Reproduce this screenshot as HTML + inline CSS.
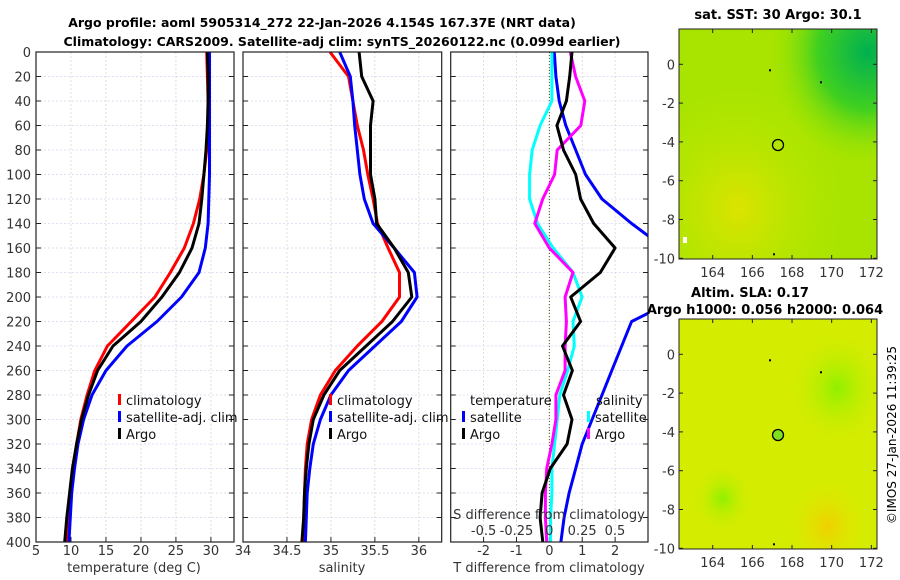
<!DOCTYPE html>
<html><head><meta charset="utf-8"><style>
body{margin:0;background:#fff;}
svg{display:block;font-family:"DejaVu Sans","Liberation Sans",sans-serif;}
</style></head><body>
<svg id="chart" width="900" height="580" viewBox="0 0 900 580">
<defs>
<radialGradient id="g1" cx="95%" cy="10%" r="50%"><stop offset="0" stop-color="#00b050"/><stop offset="0.5" stop-color="#40d020"/><stop offset="1" stop-color="#9ee400" stop-opacity="0"/></radialGradient>
<radialGradient id="g2" cx="30%" cy="78%" r="55%"><stop offset="0" stop-color="#dce400"/><stop offset="1" stop-color="#b8e800" stop-opacity="0"/></radialGradient>
<radialGradient id="g3" cx="80%" cy="30%" r="25%"><stop offset="0" stop-color="#90f000"/><stop offset="1" stop-color="#d0ec00" stop-opacity="0"/></radialGradient>
<radialGradient id="g4" cx="22%" cy="78%" r="15%"><stop offset="0" stop-color="#90f000"/><stop offset="1" stop-color="#d0ec00" stop-opacity="0"/></radialGradient>
<radialGradient id="g5" cx="75%" cy="90%" r="20%"><stop offset="0" stop-color="#f0d000"/><stop offset="1" stop-color="#e0e800" stop-opacity="0"/></radialGradient>
</defs>
<g font-weight="bold" font-size="12.5" text-anchor="middle">
<text x="322" y="27">Argo profile: aoml 5905314_272 22-Jan-2026 4.154S 167.37E (NRT data)</text>
<text x="342" y="46">Climatology: CARS2009. Satellite-adj clim: synTS_20260122.nc (0.099d earlier)</text>
</g>
<g id="plots"></g>
<g>
<rect x="679" y="29" width="198" height="230" fill="#a8e400"/>
<rect x="679" y="29" width="198" height="230" fill="url(#g2)"/>
<rect x="679" y="29" width="198" height="230" fill="url(#g1)"/>
<rect x="679" y="29" width="198" height="230" fill="none" stroke="#222" stroke-width="1"/>
<circle cx="778" cy="145" r="5.5" fill="none" stroke="#000" stroke-width="1.3"/>
<rect x="683" y="237" width="4" height="6" fill="#fff"/>
<text x="778" y="19" text-anchor="middle" font-weight="bold" font-size="13">sat. SST: 30 Argo: 30.1</text>
</g>
<g>
<rect x="679" y="319" width="198" height="230" fill="#d4ec00"/>
<rect x="679" y="319" width="198" height="230" fill="url(#g3)"/>
<rect x="679" y="319" width="198" height="230" fill="url(#g4)"/>
<rect x="679" y="319" width="198" height="230" fill="url(#g5)"/>
<rect x="679" y="319" width="198" height="230" fill="none" stroke="#222" stroke-width="1"/>
<circle cx="778" cy="435" r="5.5" fill="#80e020" stroke="#000" stroke-width="1.3"/>
<text x="750" y="297" text-anchor="middle" font-weight="bold" font-size="13">Altim. SLA: 0.17</text>
<text x="765" y="314" text-anchor="middle" font-weight="bold" font-size="13">Argo h1000: 0.056 h2000: 0.064</text>
</g>
<text transform="translate(896,435) rotate(-90)" text-anchor="middle" font-size="12">©IMOS 27-Jan-2026 11:39:25</text>
</svg>
<script>
const depths=[0,20,40,60,80,100,120,140,160,180,200,220,240,260,280,300,320,340,360,380,400];
const tempClim=[29.4,29.5,29.6,29.6,29.4,29.0,28.4,27.5,26.2,24.2,22.0,18.6,15.2,13.4,12.3,11.4,10.8,10.3,9.9,9.6,9.4];
const tempSat=[29.8,29.8,29.8,29.8,29.8,29.8,29.7,29.6,29.2,28.3,25.8,22.3,18.0,15.0,13.0,11.8,11.0,10.5,10.1,9.9,9.7];
const tempArgo=[29.5,29.6,29.6,29.5,29.3,29.0,28.7,28.3,27.3,25.5,23.0,20.0,16.0,13.8,12.5,11.5,10.8,10.2,9.8,9.4,9.1];
const salClim=[34.99,35.2,35.25,35.3,35.37,35.42,35.48,35.53,35.65,35.78,35.78,35.58,35.3,35.05,34.88,34.78,34.73,34.71,34.7,34.69,34.68];
const salSat=[35.1,35.22,35.25,35.27,35.3,35.33,35.38,35.48,35.72,35.95,35.98,35.8,35.5,35.2,35.0,34.88,34.8,34.76,34.73,34.72,34.71];
const salArgo=[35.32,35.35,35.48,35.45,35.45,35.45,35.5,35.52,35.72,35.88,35.92,35.7,35.4,35.1,34.92,34.8,34.75,34.72,34.7,34.69,34.67];
const tDiffSat=[0.15,0.2,0.3,0.5,0.8,1.1,1.6,2.5,3.5,4.5,4.0,2.5,2.2,1.9,1.6,1.3,1.0,0.8,0.6,0.45,0.35];
const tDiffArgo=[0.69,0.62,0.52,0.23,0.43,0.8,0.95,1.35,2.0,1.55,0.65,0.95,0.4,0.7,0.43,0.69,0.54,0.03,-0.22,-0.28,-0.2];
const sDiffSat=[0.02,0.02,0.02,-0.07,-0.13,-0.15,-0.15,-0.09,0.03,0.18,0.25,0.18,0.19,0.14,0.08,0.06,0.04,0.02,0.02,0.01,0.01];
const sDiffArgo=[0.16,0.2,0.27,0.24,0.06,0.04,-0.05,-0.11,0.0,0.18,0.12,0.13,0.12,0.12,0.05,0.05,0.02,-0.02,-0.03,-0.03,-0.02];
const depthTicks=[0,20,40,60,80,100,120,140,160,180,200,220,240,260,280,300,320,340,360,380,400];
const tempTicks=[5,10,15,20,25,30];
const salTicks=[34,34.5,35,35.5,36];
const tDiffTicks=[-2,-1,0,1,2];
const sDiffTickLabels=["-0.5","-0.25","0","0.25","0.5"];
const sDiffTicks=[-0.5,-0.25,0,0.25,0.5];
const latTicks=[0,-2,-4,-6,-8,-10];
const lonTicks=[164,166,168,170,172];

const NS='http://www.w3.org/2000/svg';
const root=document.getElementById('plots');
const svg=document.getElementById('chart');
function mk(tag,attrs,parent){const e=document.createElementNS(NS,tag);for(const k in attrs)e.setAttribute(k,attrs[k]);(parent||root).appendChild(e);return e;}
const TOP=52,BOT=542;
const yD=d=>TOP+(d/400)*(BOT-TOP);
const panels=[
 {x0:36,x1:234,lo:5,hi:33.3},
 {x0:243,x1:441.7,lo:34,hi:36.26},
 {x0:450.7,x1:648,lo:-3,hi:3}];
const sx=(p,v)=>p.x0+(v-p.lo)/(p.hi-p.lo)*(p.x1-p.x0);
const sS=v=>549.3+v*131.4;

panels.forEach((p,i)=>{
 const g=mk('g',{});
 
 
 mk('rect',{x:p.x0,y:TOP,width:p.x1-p.x0,height:BOT-TOP,fill:'#fff'},g);
 depthTicks.forEach(d=>{const y=yD(d);
  mk('line',{x1:p.x0,x2:p.x1,y1:y,y2:y,stroke:'#d0d6ef','stroke-dasharray':'2,2','stroke-width':0.8},g);
  mk('line',{x1:p.x0,x2:p.x0+5,y1:y,y2:y,stroke:'#222'},g);
  mk('line',{x1:p.x1-5,x2:p.x1,y1:y,y2:y,stroke:'#222'},g);});
 const xt=i==0?tempTicks:i==1?salTicks:tDiffTicks;
 xt.forEach(v=>{const x=sx(p,v);
  mk('line',{x1:x,x2:x,y1:TOP,y2:BOT,stroke:'#e6d0c8','stroke-dasharray':'2,2','stroke-width':0.8},g);
  mk('line',{x1:x,x2:x,y1:BOT-5,y2:BOT,stroke:'#222'},g);
  const t=mk('text',{x:x,y:555,'text-anchor':'middle','font-size':13,fill:'#333'},g);t.textContent=String(v);
  
  });
 if(i==2){mk('line',{x1:sx(p,0),x2:sx(p,0),y1:TOP,y2:BOT,stroke:'#3a5a20','stroke-dasharray':'1,2'},g);}
});
depthTicks.forEach(d=>{const t=mk('text',{x:31,y:yD(d)+5,'text-anchor':'end','font-size':13,fill:'#333'});t.textContent=d;
 
 });
[['temperature (deg C)',134],['salinity',342],['T difference from climatology',549]].forEach(([s,x])=>{const t=mk('text',{x:x,y:572,'text-anchor':'middle','font-size':13,fill:'#333'});t.textContent=s;
 
 });

function line(vals,fx,color,name,w){
 const pts=vals.map((v,k)=>fx(v).toFixed(1)+','+yD(depths[k]).toFixed(1)).join(' ');
 const e=mk('polyline',{points:pts,fill:'none',stroke:color,'stroke-width':w||3,'stroke-linejoin':'round'});
 
 
 return e;}
const cp=mk('clipPath',{id:'c3'});mk('rect',{x:450.7,y:TOP,width:197.3,height:BOT-TOP},cp);
const p1=panels[0],p2=panels[1],p3=panels[2];
line(tempClim,v=>sx(p1,v),'#f00','temp-climatology-line');
line(tempSat,v=>sx(p1,v),'#00f','temp-satellite-line');
line(tempArgo,v=>sx(p1,v),'#000','temp-argo-line');
line(salClim,v=>sx(p2,v),'#f00','sal-climatology-line');
line(salSat,v=>sx(p2,v),'#00f','sal-satellite-line');
line(salArgo,v=>sx(p2,v),'#000','sal-argo-line');
line(tDiffSat,v=>sx(p3,v),'#00f','tdiff-satellite-line').setAttribute('clip-path','url(#c3)');
line(sDiffSat,sS,'#0ff','sdiff-satellite-line').setAttribute('clip-path','url(#c3)');
line(sDiffArgo,sS,'#f0f','sdiff-argo-line').setAttribute('clip-path','url(#c3)');
line(tDiffArgo,v=>sx(p3,v),'#000','tdiff-argo-line').setAttribute('clip-path','url(#c3)');
const st=mk('text',{x:549,y:519,'text-anchor':'middle','font-size':13,fill:'#333'});st.textContent='S difference from climatology';


sDiffTicks.forEach((v,k)=>{const t=mk('text',{x:sS(v),y:535,'text-anchor':'middle','font-size':13,fill:'#333'});t.textContent=sDiffTickLabels[k];
 
 });
panels.forEach(p=>mk('rect',{x:p.x0,y:TOP,width:p.x1-p.x0,height:BOT-TOP,fill:'none',stroke:'#222','stroke-width':1.2}));

function legend(x,y,items){items.forEach(([lab,col],k)=>{const yy=y+k*17;
 if(col)mk('rect',{x:x,y:yy-11,width:3,height:11,fill:col});
 const t=mk('text',{x:x+(col?8:0),y:yy,'font-size':13,fill:'#111'});t.textContent=lab;
 
 });}
legend(118,405,[['climatology','#f00'],['satellite-adj. clim','#00f'],['Argo','#000']]);
legend(329,405,[['climatology','#f00'],['satellite-adj. clim','#00f'],['Argo','#000']]);
legend(470,405,[['temperature',null]]);
legend(462,422,[['satellite','#00f'],['Argo','#000']]);
legend(596,405,[['salinity',null]]);
legend(587,422,[['satellite','#0ff'],['Argo','#f0f']]);

[[29,64.3],[319,354.3]].forEach(([top,y0])=>{
 const bot=top+230;
 latTicks.forEach(v=>{const y=y0-v*19.4;
  mk('line',{x1:679,x2:683,y1:y,y2:y,stroke:'#222'},svg);mk('line',{x1:873,x2:877,y1:y,y2:y,stroke:'#222'},svg);
  const t=mk('text',{x:675,y:y+5,'text-anchor':'end','font-size':13,fill:'#333'},svg);t.textContent=v;
  
  });
 lonTicks.forEach(v=>{const x=712.7+(v-164)*19.83;
  mk('line',{x1:x,x2:x,y1:bot-4,y2:bot,stroke:'#222'},svg);mk('line',{x1:x,x2:x,y1:top,y2:top+4,stroke:'#222'},svg);
  const t=mk('text',{x:x,y:bot+18,'text-anchor':'middle','font-size':13,fill:'#333'},svg);t.textContent=v;
  
  });
 [[769,y0+5],[820,y0+17],[773,y0+189]].forEach(([x,y])=>mk('rect',{x:x,y:y,width:2,height:2,fill:'#000'},svg));
});
</script>
</body></html>
